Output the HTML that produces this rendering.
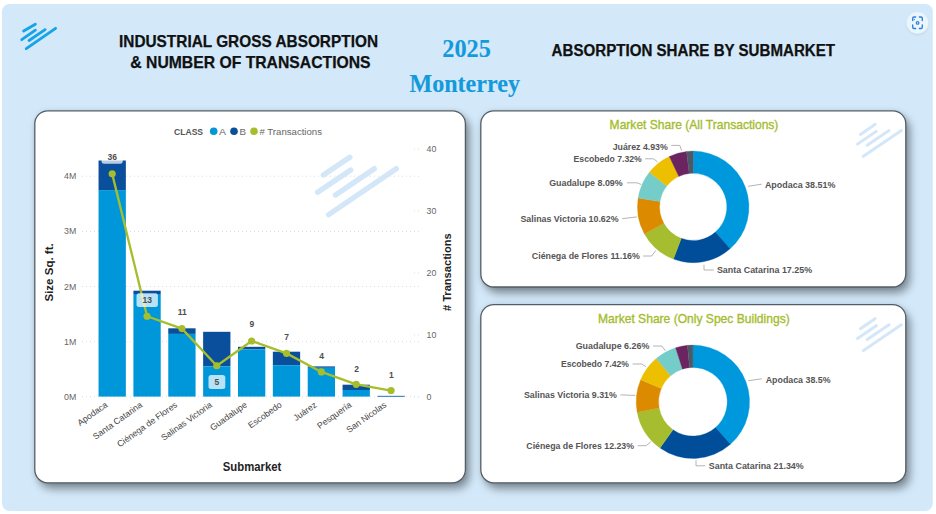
<!DOCTYPE html>
<html><head><meta charset="utf-8"><title>Industrial Gross Absorption - Monterrey 2025</title>
<style>html,body{margin:0;padding:0;background:#fff;width:936px;height:514px;overflow:hidden;font-family:"Liberation Sans",sans-serif}svg{display:block}</style>
</head><body>
<svg width="936" height="514" viewBox="0 0 936 514">
<defs>
<filter id="sh" x="-20%" y="-20%" width="150%" height="160%">
  <feGaussianBlur in="SourceAlpha" stdDeviation="5"/>
  <feOffset dx="4" dy="6"/>
  <feComponentTransfer result="s1"><feFuncA type="linear" slope="0.42"/></feComponentTransfer>
  <feGaussianBlur in="SourceAlpha" stdDeviation="3"/>
  <feComponentTransfer result="s2"><feFuncA type="linear" slope="0.12"/></feComponentTransfer>
  <feMerge><feMergeNode in="s2"/><feMergeNode in="s1"/><feMergeNode in="SourceGraphic"/></feMerge>
</filter>
<filter id="bsh" x="-50%" y="-50%" width="200%" height="200%">
  <feGaussianBlur in="SourceAlpha" stdDeviation="1.2"/>
  <feOffset dx="0" dy="0.5"/>
  <feComponentTransfer><feFuncA type="linear" slope="0.12"/></feComponentTransfer>
  <feMerge><feMergeNode/><feMergeNode in="SourceGraphic"/></feMerge>
</filter>
</defs>
<rect x="0" y="0" width="936" height="514" fill="#ffffff"/>
<rect x="2" y="4" width="930.8" height="506.9" rx="7.5" fill="#d3e9fa"/>
<line x1="23.66" y1="31.07" x2="35.34" y2="24.33" stroke="#17a3e8" stroke-width="2.9" stroke-linecap="round"/>
<line x1="21.74" y1="39.63" x2="35.36" y2="30.17" stroke="#17a3e8" stroke-width="2.9" stroke-linecap="round"/>
<line x1="29.04" y1="40.44" x2="45.06" y2="29.66" stroke="#17a3e8" stroke-width="2.9" stroke-linecap="round"/>
<line x1="26.24" y1="48.63" x2="55.56" y2="28.37" stroke="#17a3e8" stroke-width="2.9" stroke-linecap="round"/>
<text x="119.00" y="47.30" font-family="Liberation Sans, sans-serif" font-size="15.7" fill="#111" font-weight="bold" textLength="259.00" lengthAdjust="spacingAndGlyphs" stroke="#111" stroke-width="0.25">INDUSTRIAL GROSS ABSORPTION</text>
<text x="130.30" y="67.70" font-family="Liberation Sans, sans-serif" font-size="15.7" fill="#111" font-weight="bold" textLength="240.30" lengthAdjust="spacingAndGlyphs" stroke="#111" stroke-width="0.25">&amp; NUMBER OF TRANSACTIONS</text>
<text x="551.60" y="55.60" font-family="Liberation Sans, sans-serif" font-size="15.6" fill="#111" font-weight="bold" textLength="283.50" lengthAdjust="spacingAndGlyphs" stroke="#111" stroke-width="0.25">ABSORPTION SHARE BY SUBMARKET</text>
<text x="442.30" y="57.00" font-family="Liberation Serif, serif" font-size="24.2" fill="#139ada" font-weight="bold" textLength="48.60" lengthAdjust="spacingAndGlyphs" stroke="#139ada" stroke-width="0.1">2025</text>
<text x="409.40" y="92.10" font-family="Liberation Serif, serif" font-size="24.2" fill="#139ada" font-weight="bold" textLength="110.60" lengthAdjust="spacingAndGlyphs" stroke="#139ada" stroke-width="0.15">Monterrey</text>
<g filter="url(#bsh)"><circle cx="917.5" cy="22.9" r="10.8" fill="#eaf5fd"/></g>
<path d="M912.7 20.6 V18.3 Q912.7 17.0 914.0 17.0 H915.6 M919.4 17.0 H921.0 Q922.3 17.0 922.3 18.3 V20.6 M922.3 24.9 V27.2 Q922.3 28.5 921.0 28.5 H919.4 M915.6 28.5 H914.0 Q912.7 28.5 912.7 27.2 V24.9" fill="none" stroke="#2e7fd2" stroke-width="1.35" stroke-linecap="round"/>
<circle cx="917.6" cy="22.9" r="1.9" fill="#2e7fd2"/>
<circle cx="917.6" cy="22.9" r="0.7" fill="#eaf5fd"/>
<circle cx="914.4" cy="19.6" r="0.65" fill="#2e7fd2"/>
<g filter="url(#sh)"><rect x="34.8" y="110.8" width="430.6" height="372.0" rx="13" fill="#ffffff"/></g>
<rect x="34.8" y="110.8" width="430.6" height="372.0" rx="13" fill="none" stroke="#535d66" stroke-width="1.3"/>
<g filter="url(#sh)"><rect x="480.8" y="110.8" width="425.0" height="176.2" rx="13" fill="#ffffff"/></g>
<rect x="480.8" y="110.8" width="425.0" height="176.2" rx="13" fill="none" stroke="#535d66" stroke-width="1.3"/>
<g filter="url(#sh)"><rect x="480.8" y="304.6" width="425.0" height="178.2" rx="13" fill="#ffffff"/></g>
<rect x="480.8" y="304.6" width="425.0" height="178.2" rx="13" fill="none" stroke="#535d66" stroke-width="1.3"/>
<text x="174.00" y="134.80" font-family="Liberation Sans, sans-serif" font-size="9.6" fill="#555" font-weight="bold" textLength="29.10" lengthAdjust="spacingAndGlyphs">CLASS</text>
<circle cx="213.7" cy="131.3" r="3.8" fill="#0096da"/>
<text x="219.00" y="134.80" font-family="Liberation Sans, sans-serif" font-size="9.6" fill="#666" textLength="7.00" lengthAdjust="spacingAndGlyphs">A</text>
<circle cx="234.0" cy="131.3" r="3.8" fill="#0a4f9c"/>
<text x="239.50" y="134.80" font-family="Liberation Sans, sans-serif" font-size="9.6" fill="#666" textLength="6.50" lengthAdjust="spacingAndGlyphs">B</text>
<circle cx="254.0" cy="131.3" r="3.8" fill="#a6be2c"/>
<text x="259.50" y="134.80" font-family="Liberation Sans, sans-serif" font-size="9.6" fill="#666" textLength="62.50" lengthAdjust="spacingAndGlyphs"># Transactions</text>
<line x1="323.41" y1="174.92" x2="349.79" y2="157.28" stroke="#d3e7f8" stroke-width="5.4" stroke-linecap="round"/>
<line x1="317.61" y1="192.22" x2="350.69" y2="170.08" stroke="#d3e7f8" stroke-width="5.4" stroke-linecap="round"/>
<line x1="335.51" y1="195.02" x2="374.29" y2="168.68" stroke="#d3e7f8" stroke-width="5.4" stroke-linecap="round"/>
<line x1="328.70" y1="214.62" x2="396.20" y2="168.68" stroke="#d3e7f8" stroke-width="5.4" stroke-linecap="round"/>
<line x1="82" y1="396.8" x2="421" y2="396.8" stroke="#dcdcdc" stroke-width="1" stroke-dasharray="1 3"/>
<text x="76.30" y="399.90" font-family="Liberation Sans, sans-serif" font-size="8.8" fill="#666" text-anchor="end">0M</text>
<line x1="82" y1="341.7" x2="421" y2="341.7" stroke="#dcdcdc" stroke-width="1" stroke-dasharray="1 3"/>
<text x="76.30" y="344.75" font-family="Liberation Sans, sans-serif" font-size="8.8" fill="#666" text-anchor="end">1M</text>
<line x1="82" y1="286.5" x2="421" y2="286.5" stroke="#dcdcdc" stroke-width="1" stroke-dasharray="1 3"/>
<text x="76.30" y="289.60" font-family="Liberation Sans, sans-serif" font-size="8.8" fill="#666" text-anchor="end">2M</text>
<line x1="82" y1="231.4" x2="421" y2="231.4" stroke="#dcdcdc" stroke-width="1" stroke-dasharray="1 3"/>
<text x="76.30" y="234.45" font-family="Liberation Sans, sans-serif" font-size="8.8" fill="#666" text-anchor="end">3M</text>
<line x1="82" y1="176.2" x2="421" y2="176.2" stroke="#dcdcdc" stroke-width="1" stroke-dasharray="1 3"/>
<text x="76.30" y="179.30" font-family="Liberation Sans, sans-serif" font-size="8.8" fill="#666" text-anchor="end">4M</text>
<line x1="414" y1="396.7" x2="421" y2="396.7" stroke="#dcdcdc" stroke-width="1" stroke-dasharray="1 3"/>
<text x="426.60" y="399.80" font-family="Liberation Sans, sans-serif" font-size="8.8" fill="#666">0</text>
<line x1="414" y1="334.8" x2="421" y2="334.8" stroke="#dcdcdc" stroke-width="1" stroke-dasharray="1 3"/>
<text x="426.60" y="337.90" font-family="Liberation Sans, sans-serif" font-size="8.8" fill="#666">10</text>
<line x1="414" y1="272.9" x2="421" y2="272.9" stroke="#dcdcdc" stroke-width="1" stroke-dasharray="1 3"/>
<text x="426.60" y="276.00" font-family="Liberation Sans, sans-serif" font-size="8.8" fill="#666">20</text>
<line x1="414" y1="211.0" x2="421" y2="211.0" stroke="#dcdcdc" stroke-width="1" stroke-dasharray="1 3"/>
<text x="426.60" y="214.10" font-family="Liberation Sans, sans-serif" font-size="8.8" fill="#666">30</text>
<line x1="414" y1="149.1" x2="421" y2="149.1" stroke="#dcdcdc" stroke-width="1" stroke-dasharray="1 3"/>
<text x="426.60" y="152.20" font-family="Liberation Sans, sans-serif" font-size="8.8" fill="#666">40</text>
<rect x="98.55" y="160.50" width="27.3" height="29.60" fill="#0a4f9c"/>
<rect x="98.55" y="190.10" width="27.3" height="206.50" fill="#0096da"/>
<rect x="133.41" y="290.70" width="27.3" height="3.30" fill="#0a4f9c"/>
<rect x="133.41" y="294.00" width="27.3" height="102.60" fill="#0096da"/>
<rect x="168.27" y="328.30" width="27.3" height="5.60" fill="#0a4f9c"/>
<rect x="168.27" y="333.90" width="27.3" height="62.70" fill="#0096da"/>
<rect x="203.13" y="331.80" width="27.3" height="34.50" fill="#0a4f9c"/>
<rect x="203.13" y="366.30" width="27.3" height="30.30" fill="#0096da"/>
<rect x="237.99" y="346.80" width="27.3" height="2.60" fill="#0a4f9c"/>
<rect x="237.99" y="349.40" width="27.3" height="47.20" fill="#0096da"/>
<rect x="272.85" y="351.70" width="27.3" height="13.50" fill="#0a4f9c"/>
<rect x="272.85" y="365.20" width="27.3" height="31.40" fill="#0096da"/>
<rect x="307.71" y="366.40" width="27.3" height="1.40" fill="#0a4f9c"/>
<rect x="307.71" y="367.80" width="27.3" height="28.80" fill="#0096da"/>
<rect x="342.57" y="384.70" width="27.3" height="5.30" fill="#0a4f9c"/>
<rect x="342.57" y="390.00" width="27.3" height="6.60" fill="#0096da"/>
<rect x="377.43" y="396.60" width="27.3" height="0.00" fill="#0096da"/>
<rect x="377.43" y="395.8" width="27.3" height="1.1" fill="#3a7dc6"/>
<polyline points="112.20,173.86 147.06,316.23 181.92,328.61 216.78,365.75 251.64,340.99 286.50,353.37 321.36,371.94 356.22,384.32 391.08,390.51" fill="none" stroke="#a6be2c" stroke-width="2.3" stroke-linejoin="round"/>
<circle cx="112.20" cy="173.86" r="3.6" fill="#a6be2c"/>
<circle cx="147.06" cy="316.23" r="3.6" fill="#a6be2c"/>
<circle cx="181.92" cy="328.61" r="3.6" fill="#a6be2c"/>
<circle cx="216.78" cy="365.75" r="3.6" fill="#a6be2c"/>
<circle cx="251.64" cy="340.99" r="3.6" fill="#a6be2c"/>
<circle cx="286.50" cy="353.37" r="3.6" fill="#a6be2c"/>
<circle cx="321.36" cy="371.94" r="3.6" fill="#a6be2c"/>
<circle cx="356.22" cy="384.32" r="3.6" fill="#a6be2c"/>
<circle cx="391.08" cy="390.51" r="3.6" fill="#a6be2c"/>
<rect x="101.6" y="150.0" width="21.10" height="13.70" rx="2.5" fill="#ffffff" fill-opacity="0.72"/>
<text x="112.30" y="160.00" font-family="Liberation Sans, sans-serif" font-size="8.5" fill="#4d4d4d" font-weight="bold" text-anchor="middle">36</text>
<rect x="136.5" y="293.3" width="21.40" height="13.80" rx="2.5" fill="#ffffff" fill-opacity="0.72"/>
<text x="147.30" y="303.30" font-family="Liberation Sans, sans-serif" font-size="8.5" fill="#4d4d4d" font-weight="bold" text-anchor="middle">13</text>
<text x="182.20" y="314.70" font-family="Liberation Sans, sans-serif" font-size="8.5" fill="#4d4d4d" font-weight="bold" text-anchor="middle">11</text>
<rect x="208.5" y="375.0" width="16.80" height="14.00" rx="2.5" fill="#ffffff" fill-opacity="0.72"/>
<text x="216.90" y="384.90" font-family="Liberation Sans, sans-serif" font-size="8.5" fill="#4d4d4d" font-weight="bold" text-anchor="middle">5</text>
<text x="251.90" y="327.40" font-family="Liberation Sans, sans-serif" font-size="8.5" fill="#4d4d4d" font-weight="bold" text-anchor="middle">9</text>
<text x="286.60" y="340.40" font-family="Liberation Sans, sans-serif" font-size="8.5" fill="#4d4d4d" font-weight="bold" text-anchor="middle">7</text>
<text x="321.60" y="358.80" font-family="Liberation Sans, sans-serif" font-size="8.5" fill="#4d4d4d" font-weight="bold" text-anchor="middle">4</text>
<text x="356.60" y="372.00" font-family="Liberation Sans, sans-serif" font-size="8.5" fill="#4d4d4d" font-weight="bold" text-anchor="middle">2</text>
<text x="391.40" y="378.00" font-family="Liberation Sans, sans-serif" font-size="8.5" fill="#4d4d4d" font-weight="bold" text-anchor="middle">1</text>
<text x="108.20" y="406.10" font-family="Liberation Sans, sans-serif" font-size="8.75" fill="#454545" text-anchor="end" transform="rotate(-35.5 108.20 406.10)">Apodaca</text>
<text x="143.06" y="406.10" font-family="Liberation Sans, sans-serif" font-size="8.75" fill="#454545" text-anchor="end" transform="rotate(-35.5 143.06 406.10)">Santa Catarina</text>
<text x="177.92" y="406.10" font-family="Liberation Sans, sans-serif" font-size="8.75" fill="#454545" text-anchor="end" transform="rotate(-35.5 177.92 406.10)">Ciénega de Flores</text>
<text x="212.78" y="406.10" font-family="Liberation Sans, sans-serif" font-size="8.75" fill="#454545" text-anchor="end" transform="rotate(-35.5 212.78 406.10)">Salinas Victoria</text>
<text x="247.64" y="406.10" font-family="Liberation Sans, sans-serif" font-size="8.75" fill="#454545" text-anchor="end" transform="rotate(-35.5 247.64 406.10)">Guadalupe</text>
<text x="282.50" y="406.10" font-family="Liberation Sans, sans-serif" font-size="8.75" fill="#454545" text-anchor="end" transform="rotate(-35.5 282.50 406.10)">Escobedo</text>
<text x="317.36" y="406.10" font-family="Liberation Sans, sans-serif" font-size="8.75" fill="#454545" text-anchor="end" transform="rotate(-35.5 317.36 406.10)">Juárez</text>
<text x="352.22" y="406.10" font-family="Liberation Sans, sans-serif" font-size="8.75" fill="#454545" text-anchor="end" transform="rotate(-35.5 352.22 406.10)">Pesquería</text>
<text x="387.08" y="406.10" font-family="Liberation Sans, sans-serif" font-size="8.75" fill="#454545" text-anchor="end" transform="rotate(-35.5 387.08 406.10)">San Nicolas</text>
<text x="222.80" y="470.90" font-family="Liberation Sans, sans-serif" font-size="12" fill="#222" font-weight="bold" textLength="58.60" lengthAdjust="spacingAndGlyphs">Submarket</text>
<text x="53.2" y="272.4" font-family="Liberation Sans, sans-serif" font-size="11.5" font-weight="bold" fill="#222" text-anchor="middle" transform="rotate(-90 53.2 272.4)">Size Sq. ft.</text>
<text x="451.3" y="272.2" font-family="Liberation Sans, sans-serif" font-size="11" font-weight="bold" fill="#222" text-anchor="middle" textLength="77.8" lengthAdjust="spacingAndGlyphs" transform="rotate(-90 451.3 272.2)"># Transactions</text>
<path d="M693.200 151.100 A55.8 55.8 0 0 1 730.075 248.779 L715.404 232.118 A33.6 33.6 0 0 0 693.200 173.300 Z" fill="#0098dc" stroke="#0098dc" stroke-width="0.3"/>
<path d="M730.075 248.779 A55.8 55.8 0 0 1 673.443 259.085 L681.303 238.323 A33.6 33.6 0 0 0 715.404 232.118 Z" fill="#004e9a" stroke="#004e9a" stroke-width="0.3"/>
<path d="M673.443 259.085 A55.8 55.8 0 0 1 644.438 234.027 L663.838 223.235 A33.6 33.6 0 0 0 681.303 238.323 Z" fill="#a6bd30" stroke="#a6bd30" stroke-width="0.3"/>
<path d="M644.438 234.027 A55.8 55.8 0 0 1 638.109 198.032 L660.027 201.560 A33.6 33.6 0 0 0 663.838 223.235 Z" fill="#dc8a00" stroke="#dc8a00" stroke-width="0.3"/>
<path d="M638.109 198.032 A55.8 55.8 0 0 1 649.390 172.341 L666.820 186.090 A33.6 33.6 0 0 0 660.027 201.560 Z" fill="#75cdc9" stroke="#75cdc9" stroke-width="0.3"/>
<path d="M649.390 172.341 A55.8 55.8 0 0 1 669.283 156.486 L678.798 176.543 A33.6 33.6 0 0 0 666.820 186.090 Z" fill="#ecbf00" stroke="#ecbf00" stroke-width="0.3"/>
<path d="M669.283 156.486 A55.8 55.8 0 0 1 686.554 151.497 L689.198 173.539 A33.6 33.6 0 0 0 678.798 176.543 Z" fill="#6c2461" stroke="#6c2461" stroke-width="0.3"/>
<path d="M686.554 151.497 A55.8 55.8 0 0 1 693.200 151.100 L693.200 173.300 A33.6 33.6 0 0 0 689.198 173.539 Z" fill="#4b5968" stroke="#4b5968" stroke-width="0.3"/>
<path d="M692.900 345.100 A56.7 56.7 0 0 1 730.396 444.331 L715.583 427.529 A34.3 34.3 0 0 0 692.900 367.500 Z" fill="#0098dc" stroke="#0098dc" stroke-width="0.3"/>
<path d="M730.396 444.331 A56.7 56.7 0 0 1 660.035 448.004 L673.019 429.751 A34.3 34.3 0 0 0 715.583 427.529 Z" fill="#004e9a" stroke="#004e9a" stroke-width="0.3"/>
<path d="M660.035 448.004 A56.7 56.7 0 0 1 637.158 412.179 L659.180 408.079 A34.3 34.3 0 0 0 673.019 429.751 Z" fill="#a6bd30" stroke="#a6bd30" stroke-width="0.3"/>
<path d="M637.158 412.179 A56.7 56.7 0 0 1 640.695 379.675 L661.319 388.416 A34.3 34.3 0 0 0 659.180 408.079 Z" fill="#dc8a00" stroke="#dc8a00" stroke-width="0.3"/>
<path d="M640.695 379.675 A56.7 56.7 0 0 1 656.212 358.570 L670.706 375.648 A34.3 34.3 0 0 0 661.319 388.416 Z" fill="#ecbf00" stroke="#ecbf00" stroke-width="0.3"/>
<path d="M656.212 358.570 A56.7 56.7 0 0 1 675.582 347.809 L682.424 369.139 A34.3 34.3 0 0 0 670.706 375.648 Z" fill="#75cdc9" stroke="#75cdc9" stroke-width="0.3"/>
<path d="M675.582 347.809 A56.7 56.7 0 0 1 687.422 345.365 L689.586 367.660 A34.3 34.3 0 0 0 682.424 369.139 Z" fill="#6c2461" stroke="#6c2461" stroke-width="0.3"/>
<path d="M687.422 345.365 A56.7 56.7 0 0 1 692.900 345.100 L692.900 367.500 A34.3 34.3 0 0 0 689.586 367.660 Z" fill="#4b5968" stroke="#4b5968" stroke-width="0.3"/>
<text x="609.60" y="129.10" font-family="Liberation Sans, sans-serif" font-size="13" fill="#a4bc2e" textLength="168.80" lengthAdjust="spacingAndGlyphs" stroke="#a4bc2e" stroke-width="0.35">Market Share (All Transactions)</text>
<text x="597.90" y="322.80" font-family="Liberation Sans, sans-serif" font-size="13" fill="#a4bc2e" textLength="191.80" lengthAdjust="spacingAndGlyphs" stroke="#a4bc2e" stroke-width="0.35">Market Share (Only Spec Buildings)</text>
<line x1="860.46" y1="134.42" x2="875.04" y2="124.38" stroke="#d3e7f8" stroke-width="3.0" stroke-linecap="round"/>
<line x1="857.46" y1="144.12" x2="876.24" y2="131.38" stroke="#d3e7f8" stroke-width="3.0" stroke-linecap="round"/>
<line x1="867.16" y1="145.22" x2="889.04" y2="130.48" stroke="#d3e7f8" stroke-width="3.0" stroke-linecap="round"/>
<line x1="863.36" y1="156.32" x2="901.34" y2="130.48" stroke="#d3e7f8" stroke-width="3.0" stroke-linecap="round"/>
<line x1="860.46" y1="328.72" x2="875.04" y2="318.68" stroke="#d3e7f8" stroke-width="3.0" stroke-linecap="round"/>
<line x1="857.46" y1="338.42" x2="876.24" y2="325.68" stroke="#d3e7f8" stroke-width="3.0" stroke-linecap="round"/>
<line x1="867.16" y1="339.52" x2="889.04" y2="324.78" stroke="#d3e7f8" stroke-width="3.0" stroke-linecap="round"/>
<line x1="863.36" y1="350.62" x2="901.34" y2="324.78" stroke="#d3e7f8" stroke-width="3.0" stroke-linecap="round"/>
<text x="612.70" y="149.80" font-family="Liberation Sans, sans-serif" font-size="9.5" fill="#555" font-weight="bold" textLength="55.10" lengthAdjust="spacingAndGlyphs">Juárez 4.93%</text>
<polyline points="671.30,145.40 679.80,145.40 681.60,150.60" fill="none" stroke="#acacac" stroke-width="0.9"/>
<text x="573.60" y="162.10" font-family="Liberation Sans, sans-serif" font-size="9.5" fill="#555" font-weight="bold" textLength="68.10" lengthAdjust="spacingAndGlyphs">Escobedo 7.32%</text>
<polyline points="645.20,158.80 653.50,158.80 657.60,161.90" fill="none" stroke="#acacac" stroke-width="0.9"/>
<text x="549.20" y="186.10" font-family="Liberation Sans, sans-serif" font-size="9.5" fill="#555" font-weight="bold" textLength="73.50" lengthAdjust="spacingAndGlyphs">Guadalupe 8.09%</text>
<polyline points="627.00,182.80 637.00,182.80 641.20,184.50" fill="none" stroke="#acacac" stroke-width="0.9"/>
<text x="520.40" y="222.00" font-family="Liberation Sans, sans-serif" font-size="9.5" fill="#555" font-weight="bold" textLength="98.20" lengthAdjust="spacingAndGlyphs">Salinas Victoria 10.62%</text>
<polyline points="622.20,218.70 636.80,216.90" fill="none" stroke="#acacac" stroke-width="0.9"/>
<text x="531.80" y="259.30" font-family="Liberation Sans, sans-serif" font-size="9.5" fill="#555" font-weight="bold" textLength="108.10" lengthAdjust="spacingAndGlyphs">Ciénega de Flores 11.16%</text>
<polyline points="643.10,256.00 651.70,256.00 655.80,250.50" fill="none" stroke="#acacac" stroke-width="0.9"/>
<text x="716.90" y="273.30" font-family="Liberation Sans, sans-serif" font-size="9.5" fill="#555" font-weight="bold" textLength="95.30" lengthAdjust="spacingAndGlyphs">Santa Catarina 17.25%</text>
<polyline points="704.00,264.70 704.00,270.00 713.70,270.00" fill="none" stroke="#acacac" stroke-width="0.9"/>
<text x="764.90" y="188.30" font-family="Liberation Sans, sans-serif" font-size="9.5" fill="#555" font-weight="bold" textLength="70.50" lengthAdjust="spacingAndGlyphs">Apodaca 38.51%</text>
<polyline points="748.00,186.30 761.70,184.20" fill="none" stroke="#acacac" stroke-width="0.9"/>
<text x="575.70" y="349.30" font-family="Liberation Sans, sans-serif" font-size="9.5" fill="#555" font-weight="bold" textLength="73.60" lengthAdjust="spacingAndGlyphs">Guadalupe 6.26%</text>
<polyline points="653.00,346.00 661.80,346.00 665.40,350.70" fill="none" stroke="#acacac" stroke-width="0.9"/>
<text x="561.00" y="367.30" font-family="Liberation Sans, sans-serif" font-size="9.5" fill="#555" font-weight="bold" textLength="67.90" lengthAdjust="spacingAndGlyphs">Escobedo 7.42%</text>
<polyline points="632.60,364.00 641.70,364.00 645.90,366.60" fill="none" stroke="#acacac" stroke-width="0.9"/>
<text x="524.00" y="398.20" font-family="Liberation Sans, sans-serif" font-size="9.5" fill="#555" font-weight="bold" textLength="92.80" lengthAdjust="spacingAndGlyphs">Salinas Victoria 9.31%</text>
<polyline points="620.40,394.90 635.30,395.40" fill="none" stroke="#acacac" stroke-width="0.9"/>
<text x="526.30" y="449.00" font-family="Liberation Sans, sans-serif" font-size="9.5" fill="#555" font-weight="bold" textLength="107.70" lengthAdjust="spacingAndGlyphs">Ciénega de Flores 12.23%</text>
<polyline points="637.70,445.70 646.20,445.70 650.80,441.80" fill="none" stroke="#acacac" stroke-width="0.9"/>
<text x="708.80" y="469.10" font-family="Liberation Sans, sans-serif" font-size="9.5" fill="#555" font-weight="bold" textLength="94.90" lengthAdjust="spacingAndGlyphs">Santa Catarina 21.34%</text>
<polyline points="696.00,460.20 696.00,465.80 705.30,465.80" fill="none" stroke="#acacac" stroke-width="0.9"/>
<text x="765.70" y="383.30" font-family="Liberation Sans, sans-serif" font-size="9.5" fill="#555" font-weight="bold" textLength="64.90" lengthAdjust="spacingAndGlyphs">Apodaca 38.5%</text>
<polyline points="748.10,380.80 761.70,378.75" fill="none" stroke="#acacac" stroke-width="0.9"/>
</svg>
</body></html>
